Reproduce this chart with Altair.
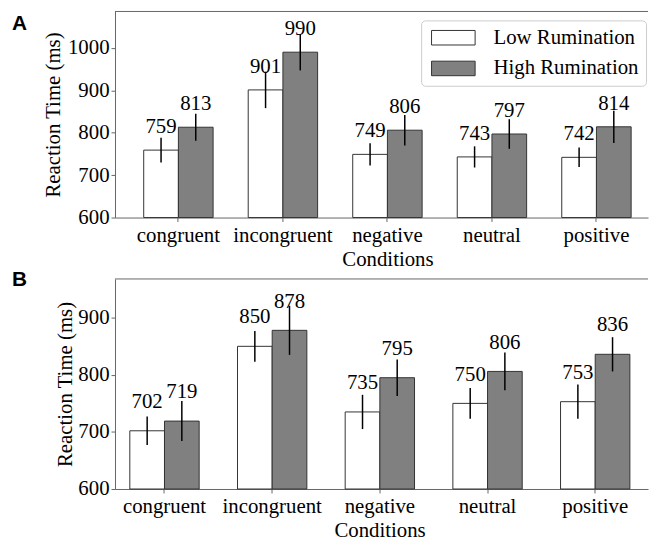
import altair as alt
import pandas as pd

conditions = ["congruent", "incongruent", "negative", "neutral", "positive"]
groups = ["Low Rumination", "High Rumination"]

a_low = [759, 901, 749, 743, 742]
a_high = [813, 990, 806, 797, 814]
a_low_err = [29, 43, 26, 25, 23]
a_high_err = [32, 43, 36, 35, 38]

b_low = [702, 850, 735, 750, 753]
b_high = [719, 878, 795, 806, 836]
b_low_err = [25, 27, 30, 27, 30]
b_high_err = [35, 43, 32, 33, 30]

a_ticks = [600, 700, 800, 900, 1000]
b_ticks = [600, 700, 800, 900]

SERIF = "Liberation Serif"
FS = 21
AX = "#666666"


def make_df(low, high, low_err, high_err):
    rows = []
    for i, c in enumerate(conditions):
        rows.append(dict(cond=c, group=groups[0], rt=low[i], err=low_err[i]))
        rows.append(dict(cond=c, group=groups[1], rt=high[i], err=high_err[i]))
    return pd.DataFrame(rows)


def panel(df, letter, ymax, ticks, width, height, pad_inner, pad_outer, align,
          title_x, ytitle_pad, xtitle_pad, letter_x, letter_y, show_legend):
    base = alt.Chart(df).transform_calculate(
        lo="datum.rt - datum.err", hi="datum.rt + datum.err", ly="datum.rt + 40"
    )
    x = alt.X(
        "cond:N", sort=conditions,
        scale=alt.Scale(domain=conditions, paddingInner=pad_inner,
                        paddingOuter=pad_outer, align=align),
        axis=alt.Axis(title="Conditions", labelAngle=0, labelFont=SERIF,
                      labelFontSize=FS, titleFont=SERIF, titleFontSize=FS,
                      titleFontWeight="normal", tickSize=4, tickColor=AX,
                      domainColor=AX, labelColor="black", titleColor="black",
                      labelPadding=3, titleX=title_x, titleAlign="center",
                      titlePadding=xtitle_pad),
    )
    xo = alt.XOffset("group:N", sort=groups,
                     scale=alt.Scale(domain=groups, paddingInner=0, paddingOuter=0))
    yscale = alt.Scale(domain=[600, ymax], nice=False, zero=False)
    y = alt.Y(
        "rt:Q", scale=yscale,
        axis=alt.Axis(values=ticks, format="d", title="Reaction Time (ms)", grid=False,
                      labelFont=SERIF, labelFontSize=FS, titleFont=SERIF,
                      titleFontSize=FS, titleFontWeight="normal", tickSize=4,
                      tickColor=AX, domainColor=AX, labelColor="black",
                      titleColor="black", labelPadding=2,
                      titlePadding=ytitle_pad),
    )
    if show_legend:
        legend = alt.Legend(
            title=None, orient="none", legendX=309, legendY=9,
            symbolType="M-3,-1H3V1H-3Z", symbolSize=215,
            symbolStrokeColor="#333333", symbolStrokeWidth=1, symbolOpacity=1,
            labelFont=SERIF, labelFontSize=FS, labelColor="black",
            labelOffset=30, symbolOffset=15, padding=7, rowPadding=9,
            strokeColor="#cccccc", fillColor="white", cornerRadius=4,
        )
    else:
        legend = None
    color = alt.Color("group:N", sort=groups,
                      scale=alt.Scale(domain=groups, range=["white", "#808080"]),
                      legend=legend)
    bars = base.mark_bar(stroke="#333333", strokeWidth=1, opacity=1).encode(
        x=x, xOffset=xo, y=y, y2=alt.datum(600), color=color
    )
    errs = base.mark_rule(color="black", strokeWidth=1.5).encode(
        x=alt.X("cond:N", sort=conditions), xOffset=alt.XOffset("group:N", sort=groups),
        y=alt.Y("lo:Q"), y2="hi:Q"
    )
    labels = base.mark_text(font=SERIF, fontSize=FS, color="black",
                            baseline="alphabetic", align="center").encode(
        x=alt.X("cond:N", sort=conditions), xOffset=alt.XOffset("group:N", sort=groups),
        y=alt.Y("ly:Q"), text=alt.Text("rt:Q", format="d")
    )
    frame = alt.Chart(pd.DataFrame({"k": [0]})).mark_rule(color=AX, strokeWidth=1).encode(
        x=alt.value(0), x2=alt.value(width), y=alt.value(0)
    )
    tag = alt.Chart(pd.DataFrame({"t": [letter]})).mark_text(
        font="Liberation Sans", fontWeight="bold", fontSize=21,
        align="left", baseline="top", color="black"
    ).encode(text="t:N", x=alt.value(letter_x), y=alt.value(letter_y))
    return alt.layer(bars, errs, labels, frame, tag).properties(width=width, height=height)


dfa = make_df(a_low, a_high, a_low_err, a_high_err)
dfb = make_df(b_low, b_high, b_low_err, b_high_err)

pa = panel(dfa, "A", 1086, a_ticks, 538, 208, 0.336, 0.218, 0.63,
           275, 4, 3, -104, 2, True)
pb = panel(dfb, "B", 968, b_ticks, 538, 212, 0.356, 0.153, 0.45,
           267, 2, 3, -104, -10, False)

chart = alt.ConcatChart(concat=[pa, pb], columns=1, spacing=0).resolve_scale(
    color="independent", x="independent", y="independent", xOffset="independent"
).configure_view(strokeWidth=0).properties(
    padding={"left": 4, "top": 0, "right": 0, "bottom": 0}
)

chart.save("out.html", embed_options={"renderer": "svg", "actions": False})
